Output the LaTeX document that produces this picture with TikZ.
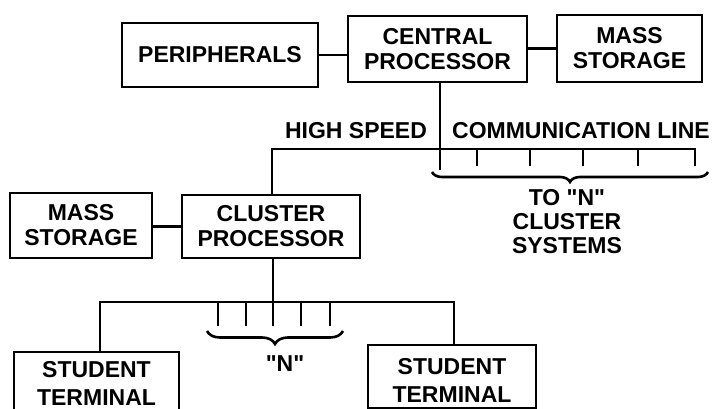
\documentclass[tikz,border=0pt]{standalone}
\usepackage{fontspec}
\newfontfamily\lsans{Liberation Sans}
\usetikzlibrary{decorations.pathreplacing}
\tikzset{
  lw/.style={line width=2.6pt},
  blk/.style={draw, lw, rectangle, inner sep=0pt, align=center, font=\lsans\bfseries\fontsize{23}{25}\selectfont},
  lbl/.style={inner sep=0pt, align=center, font=\lsans\bfseries\fontsize{23}{24}\selectfont},
  tlbl/.style={inner sep=0pt, align=center, font=\lsans\bfseries\fontsize{23}{28}\selectfont},
  brc/.style={lw, decorate, decoration={brace, mirror, amplitude=#1}},
}
\begin{document}
\begin{tikzpicture}[x=1pt,y=-1pt]
\useasboundingbox (0,0) rectangle (718,409);
% boxes
\node[blk, minimum width=196pt, minimum height=64pt] (periph) at (220,55) {PERIPHERALS};
\node[blk, minimum width=179pt, minimum height=66pt] (central) at (437.5,49) {CENTRAL\\PROCESSOR};
\node[blk, minimum width=145pt, minimum height=67pt] (massT) at (629.5,48.5) {MASS\\STORAGE};
\node[blk, minimum width=178pt, minimum height=63pt] (cluster) at (271,226.5) {CLUSTER\\PROCESSOR};
\node[blk, minimum width=142pt, minimum height=65pt] (massL) at (81,225.5) {MASS\\STORAGE};
\node[blk, minimum width=165pt, minimum height=62pt,
      label={[tlbl]center:STUDENT\\TERMINAL}] (stuL) at (96.5,383) {};
\node[blk, minimum width=168pt, minimum height=63pt,
      label={[tlbl, yshift=-4pt]center:STUDENT\\TERMINAL}] (stuR) at (452,376.5) {};
% labels
\node[lbl] (hs) at (356,131) {HIGH SPEED};
\node[lbl] (cl) at (581,131) {COMMUNICATION LINE};
\node[lbl] (ton) at (567,222) {TO "N"\\CLUSTER\\SYSTEMS};
\node[lbl] (nn) at (285,364) {"N"};
% top connections
\draw[lw] (periph.east) -- (periph.east -| central.west);
\draw[lw] (central.east |- massT.west) -- (massT.west);
\coordinate (cv) at (440,170);
\draw[lw] (central.south -| cv) -- (cv);
\coordinate (cL) at (272,149);
\coordinate (cR) at (695,149);
\draw[lw] (cluster.north -| cL) -- (cL) -- (cR) -- ++(0,17);
\foreach \x in {477,530,583,638} \draw[lw] (\x,149) -- (\x,166);
\draw[brc=10pt] (432,172) -- (708,172);
% cluster connections
\draw[lw] (massL.east |- cluster.west) -- (cluster.west);
\coordinate (bv) at (273,326);
\draw[lw] (cluster.south -| bv) -- (bv);
\coordinate (bl) at (100,302);
\coordinate (br) at (454,302);
\draw[lw] (stuL.north -| bl) -- (bl) -- (br) -- (stuR.north -| br);
\foreach \x in {218,246,301,330} \draw[lw] (\x,302) -- (\x,326);
\draw[brc=13pt] (207,331) -- (343,331);
\end{tikzpicture}
\end{document}
